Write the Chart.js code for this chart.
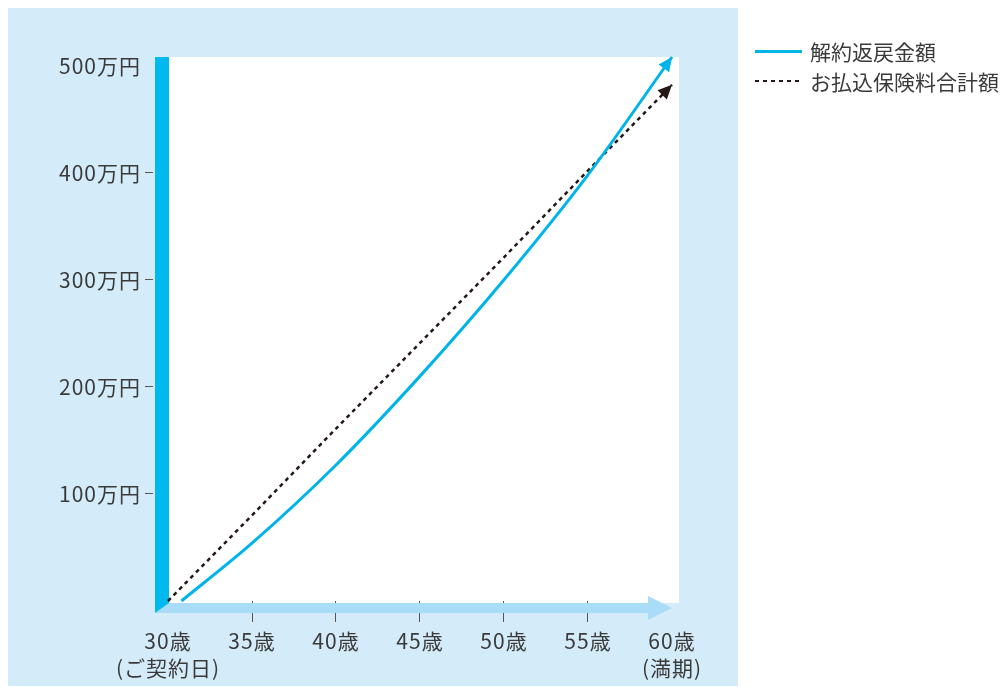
<!DOCTYPE html>
<html lang="ja">
<head>
<meta charset="utf-8">
<script src="https://cdn.jsdelivr.net/npm/chart.js@4.4.1/dist/chart.umd.min.js"></script>
<style>
  html, body { margin: 0; padding: 0; background: #fff; }
  #wrap { position: relative; width: 1003px; height: 687px; }
  .lg-text { position: absolute; left: 810px; height: 28px; line-height: 28px;
             font-family: "Noto Sans CJK JP", "Noto Sans", sans-serif; font-size: 21px; color: #3a3a3a; white-space: nowrap; }
  .lg-line { position: absolute; left: 755px; width: 47px; }
</style>
</head>
<body>
<div id="wrap">
  <canvas id="chart" width="1003" height="687"></canvas>
  <div class="lg-line" style="top:50px;height:3px;background:#00b4ea;"></div>
  <div class="lg-text" style="top:37px;">解約返戻金額</div>
  <div class="lg-line" style="top:80px;height:2px;background:repeating-linear-gradient(90deg,#231815 0 4px,transparent 4px 8px);"></div>
  <div class="lg-text" style="top:67px;">お払込保険料合計額</div>
</div>
<script>
// 年齢（歳）
const ageTicks = [30, 35, 40, 45, 50, 55, 60];
const yTicks = [100, 200, 300, 400, 500];

// 解約返戻金額（万円）
const surrenderAges = [30.8, 35, 40, 45, 50, 55, 60];
const surrenderValues = [0, 54, 127, 210, 300, 398, 508];

// お払込保険料合計額（万円）
const premiumAges = [30, 35, 40, 45, 50, 55, 60];
const premiumValues = [0, 80, 161, 241, 321, 402, 482];

const FONT = '"Noto Sans CJK JP", "Noto Sans", sans-serif';
const TEXT = '#3a3a3a';
const CYAN = '#00b4ea';

const toPoints = (xs, ys) => xs.map((x, i) => ({ x: x, y: ys[i] }));

function drawArrow(ctx, tx, ty, angle, len, half, color) {
    ctx.save();
    ctx.translate(tx, ty);
    ctx.rotate(angle);
    ctx.beginPath();
    ctx.moveTo(0, 0);
    ctx.lineTo(-len, -half);
    ctx.lineTo(-len, half);
    ctx.closePath();
    ctx.fillStyle = color;
    ctx.fill();
    ctx.restore();
}

const framePlugin = {
    id: 'frame',
    beforeDraw(chart) {
        const { ctx, chartArea, scales } = chart;
        const x0 = scales.x.getPixelForValue(30);
        const y0 = scales.y.getPixelForValue(0);
        ctx.save();
        ctx.fillStyle = '#ffffff';
        ctx.fillRect(0, 0, chart.width, chart.height);
        ctx.fillStyle = '#d4ecf9';
        ctx.fillRect(8, 8, 730, 678);
        ctx.fillStyle = '#ffffff';
        ctx.fillRect(x0, chartArea.top, chartArea.right - x0, y0 - chartArea.top + 2);
        ctx.restore();
        // 目盛りの数字が幅広なので字間を少し空ける
        ctx.letterSpacing = '1px';
    },
    beforeDatasetsDraw(chart) {
        const { ctx, chartArea, scales } = chart;
        const x0 = scales.x.getPixelForValue(30);
        const xEnd = scales.x.getPixelForValue(60);
        const y0 = scales.y.getPixelForValue(0);
        ctx.save();
        // 横軸の矢印
        ctx.fillStyle = '#a9dcf6';
        ctx.beginPath();
        ctx.moveTo(x0 - 13, y0 + 12);
        ctx.lineTo(x0 + 1, y0 + 2);
        ctx.lineTo(xEnd - 24, y0 + 2);
        ctx.lineTo(xEnd - 24, y0 - 5);
        ctx.lineTo(xEnd, y0 + 7);
        ctx.lineTo(xEnd - 24, y0 + 19);
        ctx.lineTo(xEnd - 24, y0 + 12);
        ctx.closePath();
        ctx.fill();
        // 縦軸のバー
        ctx.fillStyle = '#00b9ef';
        ctx.beginPath();
        ctx.moveTo(x0 - 13, chartArea.top);
        ctx.lineTo(x0 + 1, chartArea.top);
        ctx.lineTo(x0 + 1, y0 + 2);
        ctx.lineTo(x0 - 13, y0 + 12);
        ctx.closePath();
        ctx.fill();
        ctx.restore();
    },
    afterDatasetsDraw(chart) {
        const { ctx } = chart;
        chart.data.datasets.forEach((ds, i) => {
            const pts = chart.getDatasetMeta(i).data;
            const p = pts[pts.length - 1];
            const q = pts[pts.length - 2];
            let px = q.x, py = q.y;
            if (p.cp1x !== undefined && Math.abs(p.cp1x - p.x) > 0.5) { px = p.cp1x; py = p.cp1y; }
            const angle = Math.atan2(p.y - py, p.x - px);
            drawArrow(ctx, p.x, p.y, angle, 14, 6.5, ds.arrowColor);
        });
    }
};

new Chart(document.getElementById('chart'), {
    type: 'line',
    data: {
        datasets: [
            {
                label: '解約返戻金額',
                data: toPoints(surrenderAges, surrenderValues),
                borderColor: CYAN,
                borderWidth: 3,
                borderCapStyle: 'butt',
                cubicInterpolationMode: 'monotone',
                pointRadius: 0,
                clip: 12,
                arrowColor: CYAN
            },
            {
                label: 'お払込保険料合計額',
                data: toPoints(premiumAges, premiumValues),
                borderColor: '#231815',
                borderWidth: 2.5,
                borderDash: [4, 4],
                tension: 0,
                pointRadius: 0,
                clip: 12,
                arrowColor: '#231815'
            }
        ]
    },
    options: {
        responsive: false,
        animation: false,
        layout: { padding: { top: 57, right: 324, left: 0, bottom: 0 } },
        plugins: { legend: { display: false }, tooltip: { enabled: false } },
        scales: {
            x: {
                type: 'linear',
                min: 29.107,
                max: 60.417,
                afterBuildTicks: (s) => { s.ticks = ageTicks.map(v => ({ value: v })); },
                afterFit: (s) => { s.height = 86; },
                border: { display: false },
                grid: {
                    drawOnChartArea: false,
                    drawTicks: true,
                    tickLength: 21,
                    color: (c) => (c.tick && (c.tick.value === 30 || c.tick.value === 60)) ? 'rgba(0,0,0,0)' : '#555',
                    lineWidth: 1
                },
                ticks: {
                    padding: 5,
                    maxRotation: 0,
                    autoSkip: false,
                    color: TEXT,
                    font: { family: FONT, size: 21, lineHeight: 1.3 },
                    callback: (v) => {
                        if (v === 30) return ['30歳', '(ご契約日)'];
                        if (v === 60) return ['60歳', '(満期)'];
                        return v + '歳';
                    }
                }
            },
            y: {
                min: 0,
                max: 508,
                afterBuildTicks: (s) => { s.ticks = yTicks.map(v => ({ value: v })); },
                afterFit: (s) => { s.width = 153; },
                border: { display: false },
                grid: {
                    drawOnChartArea: false,
                    drawTicks: true,
                    tickLength: 8,
                    color: (c) => (c.tick && c.tick.value === 500) ? 'rgba(0,0,0,0)' : '#555',
                    lineWidth: 1
                },
                ticks: {
                    padding: 4,
                    color: TEXT,
                    font: { family: FONT, size: 21 },
                    callback: (v) => v + '万円'
                }
            }
        }
    },
    plugins: [framePlugin]
});
</script>
</body>
</html>
